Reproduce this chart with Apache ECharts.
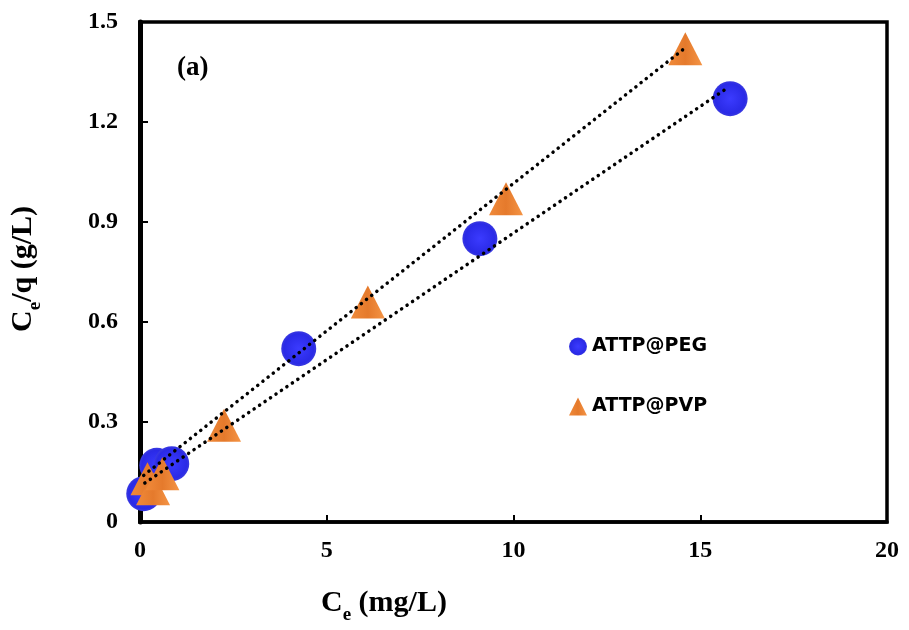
<!DOCTYPE html>
<html>
<head>
<meta charset="utf-8">
<script src="https://cdn.jsdelivr.net/npm/echarts@6/dist/echarts.min.js"></script>
<style>html,body{margin:0;padding:0;background:#fff}#c{width:909px;height:630px}</style>
</head>
<body>
<div id="c"></div>
<script>
// ---- data ----
const pegX = [0.1, 0.45, 0.85, 4.25, 9.1, 15.8];
const pegY = [0.085, 0.17, 0.175, 0.52, 0.85, 1.27];
const pvpX = [0.2, 0.35, 0.6, 2.25, 6.1, 9.8, 14.6];
const pvpY = [0.13, 0.1, 0.145, 0.29, 0.66, 0.97, 1.42];
const pegTrendX = [0.13, 15.7];
const pegTrendY = [0.117, 1.30];
const pvpTrendX = [0.1, 14.57];
const pvpTrendY = [0.14, 1.42];
const xTicks = [0, 5, 10, 15, 20];
const yTicks = [0, 0.3, 0.6, 0.9, 1.2, 1.5];
const seriesNames = ['ATTP@PEG', 'ATTP@PVP'];

const zip = (a, b) => a.map((v, i) => [v, b[i]]);
const serif = '"Liberation Serif", "Times New Roman", serif';
const blue = {type:'radial', x:0.5, y:0.5, r:0.5, colorStops:[{offset:0,color:'#3b3bff'},{offset:0.85,color:'#2a2ae6'},{offset:1,color:'#3a3ae0'}]};
const orange = {type:'linear', x:0, y:0, x2:1, y2:0, colorStops:[{offset:0,color:'#f08a3a'},{offset:0.5,color:'#e57a2c'},{offset:1,color:'#f49445'}]};
const richLabel = {
  b:{fontFamily:serif, fontWeight:'bold', fontSize:30, color:'#000', lineHeight:38, verticalAlign:'bottom'},
  s:{fontFamily:serif, fontWeight:'bold', fontSize:19, color:'#000', lineHeight:38, verticalAlign:'bottom', padding:[0,0,-7,0]}
};

const chart = echarts.init(document.getElementById('c'), null, {renderer:'canvas'});
chart.setOption({
  animation: false,
  backgroundColor: '#fff',
  grid: {left:140, right:22, top:22, bottom:108, show:true, borderColor:'#000', borderWidth:3.5},
  xAxis: {
    type:'value', min:xTicks[0], max:xTicks[xTicks.length-1], interval:5,
    axisLine:{show:true, lineStyle:{color:'#000', width:3.5}},
    axisTick:{show:true, inside:true, length:7, lineStyle:{color:'#000', width:2}},
    splitLine:{show:false},
    axisLabel:{margin:17, fontFamily:serif, fontWeight:'bold', fontSize:24, color:'#000'}
  },
  yAxis: {
    type:'value', min:yTicks[0], max:yTicks[yTicks.length-1], interval:0.3,
    axisLine:{show:true, lineStyle:{color:'#000', width:5}},
    axisTick:{show:true, inside:true, length:8, lineStyle:{color:'#000', width:2}},
    splitLine:{show:false},
    axisLabel:{margin:22, fontFamily:serif, fontWeight:'bold', fontSize:24, color:'#000',
      formatter: v => v === 0 ? '0' : v.toFixed(1)}
  },
  legend: {
    left:564, top:332, orient:'vertical', itemGap:41, itemWidth:18, itemHeight:18,
    data:[{name:seriesNames[0], icon:'circle'}, {name:seriesNames[1], icon:'triangle'}],
    textStyle:{fontFamily:'"DejaVu Sans", sans-serif', fontWeight:'bold', fontSize:19, color:'#000'}
  },
  series: [
    {name:seriesNames[0], type:'scatter', data:zip(pegX, pegY), symbol:'circle', symbolSize:35,
      itemStyle:{color:blue, opacity:1}, z:2},
    {name:seriesNames[1], type:'scatter', data:zip(pvpX, pvpY), symbol:'triangle', symbolSize:[34,33],
      itemStyle:{color:orange, opacity:1}, z:3},
    {type:'line', data:zip(pegTrendX, pegTrendY), symbol:'none', silent:true, z:5,
      lineStyle:{color:'#000', width:3.5, type:[0.1,6.5], cap:'round'}},
    {type:'line', data:zip(pvpTrendX, pvpTrendY), symbol:'none', silent:true, z:5,
      lineStyle:{color:'#000', width:3.5, type:[0.1,6.5], cap:'round'}}
  ],
  graphic: [
    {type:'text', left:177, top:55, style:{text:'(a)', font:'bold 27px ' + serif, fill:'#000'}},
    {type:'text', left:321, top:588, style:{text:'{b|C}{s|e}{b| (mg/L)}', rich:richLabel}},
    {type:'text', left:8, top:206, rotation:Math.PI/2, style:{text:'{b|C}{s|e}{b|/q (g/L)}', rich:richLabel}}
  ]
});
</script>
</body>
</html>
